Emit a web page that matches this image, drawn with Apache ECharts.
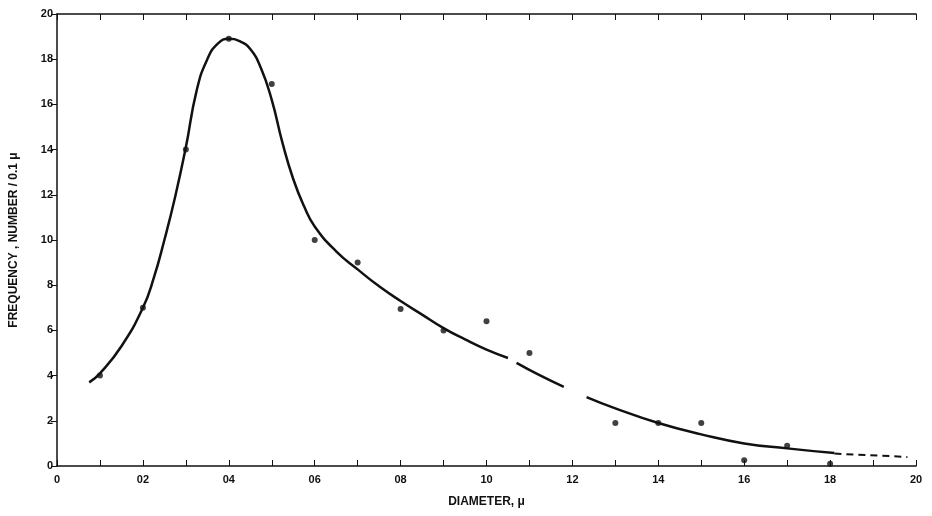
<!DOCTYPE html>
<html>
<head>
<meta charset="utf-8">
<script src="https://cdn.jsdelivr.net/npm/echarts@6/dist/echarts.min.js"></script>
<style>
  html, body { margin: 0; padding: 0; background: #fff; }
  #chart { width: 932px; height: 516px; }
</style>
</head>
<body>
<div id="chart"></div>
<script>
// measured points (diameter in microns, frequency)
const pointX = [0.1, 0.2, 0.3, 0.4, 0.5, 0.6, 0.7, 0.8, 0.9, 1.0, 1.1, 1.3, 1.4, 1.5, 1.6, 1.7, 1.8];
const pointY = [4.0, 7.0, 14.0, 18.9, 16.9, 10.0, 9.0, 6.95, 6.0, 6.4, 5.0, 1.9, 1.9, 1.9, 0.25, 0.9, 0.1];

// fitted curve, null = break in the printed line
const curveX = [0.075, 0.1, 0.15, 0.2, 0.225, 0.25, 0.275, 0.3, 0.325, 0.35, 0.375, 0.4, 0.425, 0.45,
  0.475, 0.5, 0.525, 0.55, 0.575, 0.6, 0.65, 0.7, 0.75, 0.8, 0.85, 0.9, 0.95, 1.0, 1.05,
  1.06, 1.07, 1.12, 1.18, 1.2, 1.233, 1.3, 1.4, 1.5, 1.6, 1.7, 1.81];
const curveY = [3.7, 4.1, 5.3, 7.0, 8.3, 10.0, 11.9, 14.1, 16.6, 18.0, 18.7, 18.9, 18.8, 18.45,
  17.6, 16.2, 14.3, 12.7, 11.5, 10.6, 9.5, 8.7, 7.95, 7.3, 6.7, 6.1, 5.6, 5.15, 4.78,
  null, 4.56, 4.05, 3.5, null, 3.05, 2.55, 1.9, 1.4, 1.0, 0.78, 0.57];

// dashed extension past the last point
const tailX = [1.81, 1.98];
const tailY = [0.55, 0.4];

const xTickLabels = ["0", "02", "04", "06", "08", "10", "12", "14", "16", "18", "20"];
const yTickLabels = ["0", "2", "4", "6", "8", "10", "12", "14", "16", "18", "20"];

const font = "Liberation Sans";
const ink = "#111";

const chart = echarts.init(document.getElementById("chart"));

const option = {
  animation: false,
  backgroundColor: "#fff",
  grid: { left: 55, right: 16, top: 14, bottom: 50 },
  xAxis: [
    {
      type: "value",
      min: 0,
      max: 2.0,
      interval: 0.2,
      name: "DIAMETER, μ",
      nameLocation: "middle",
      nameGap: 30,
      nameTextStyle: { color: ink, fontFamily: font, fontWeight: "bold", fontSize: 12 },
      axisLine: { show: true, onZero: false, lineStyle: { color: ink, width: 1.5 } },
      axisTick: { show: true, inside: true, length: 6, lineStyle: { color: ink } },
      minorTick: { show: true, splitNumber: 2, length: 6, lineStyle: { color: ink } },
      splitLine: { show: false },
      axisLabel: {
        color: ink,
        fontFamily: font,
        fontWeight: "bold",
        fontSize: 11,
        margin: 8,
        formatter: (v) => xTickLabels[Math.round(v * 5)]
      }
    },
    {
      type: "value",
      position: "top",
      min: 0,
      max: 2.0,
      interval: 0.2,
      axisLine: { show: true, onZero: false, lineStyle: { color: ink, width: 1.5 } },
      axisTick: { show: true, inside: true, length: 6, lineStyle: { color: ink } },
      minorTick: { show: true, splitNumber: 2, length: 6, lineStyle: { color: ink } },
      splitLine: { show: false },
      axisLabel: { show: false }
    }
  ],
  yAxis: [
    {
      type: "value",
      min: 0,
      max: 20,
      interval: 2,
      name: "FREQUENCY , NUMBER / 0.1 μ",
      nameLocation: "middle",
      nameGap: 37,
      nameRotate: 90,
      nameTextStyle: { color: ink, fontFamily: font, fontWeight: "bold", fontSize: 12 },
      axisLine: { show: false },
      axisTick: { show: true, length: 3, lineStyle: { color: ink } },
      splitLine: { show: false },
      axisLabel: {
        color: ink,
        fontFamily: font,
        fontWeight: "bold",
        fontSize: 11,
        margin: 4,
        formatter: (v) => yTickLabels[Math.round(v / 2)]
      }
    },
    {
      type: "value",
      position: "right",
      min: 0,
      max: 20,
      interval: 2,
      axisLine: { show: true, lineStyle: { color: ink, width: 1.5 } },
      axisTick: { show: true, inside: true, length: 6, lineStyle: { color: ink } },
      splitLine: { show: false },
      axisLabel: { show: false }
    }
  ],
  series: [
    {
      type: "line",
      smooth: 0.5,
      connectNulls: false,
      showSymbol: false,
      lineStyle: { color: ink, width: 2.5 },
      data: curveX.map((x, i) => [x, curveY[i] === null ? "-" : curveY[i]])
    },
    {
      type: "line",
      showSymbol: false,
      lineStyle: { color: ink, width: 2, type: [7, 5] },
      data: tailX.map((x, i) => [x, tailY[i]])
    },
    {
      type: "scatter",
      symbol: "circle",
      symbolSize: 6,
      itemStyle: { color: ink },
      z: 5,
      data: pointX.map((x, i) => [x, pointY[i]])
    }
  ]
};

chart.setOption(option);
</script>
</body>
</html>
